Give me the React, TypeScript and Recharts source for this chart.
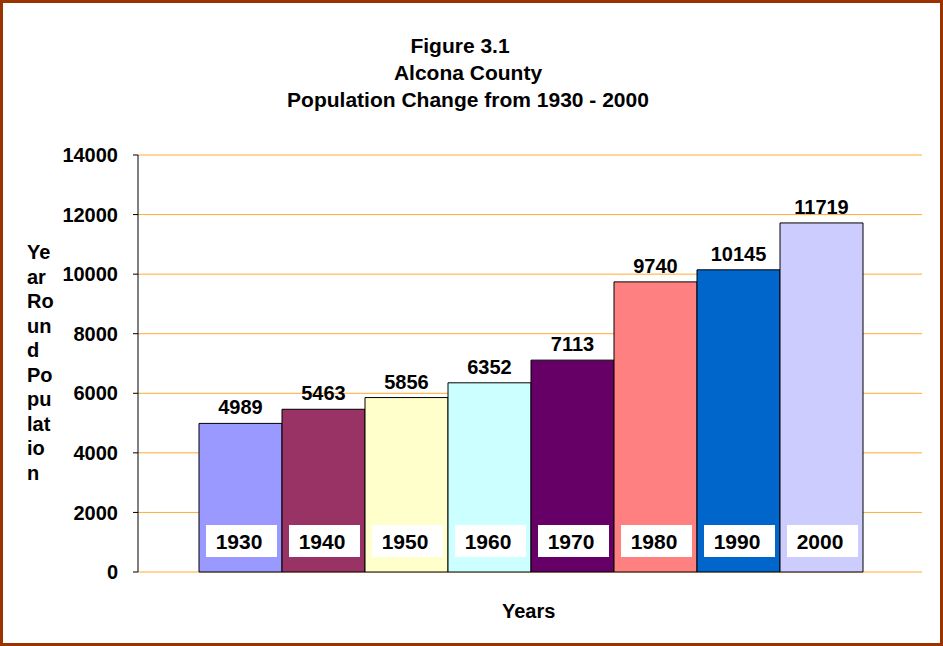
import { BarChart, Bar, XAxis, YAxis, CartesianGrid, LabelList } from "recharts";

const years = ["1930", "1940", "1950", "1960", "1970", "1980", "1990", "2000"];
const population = [4989, 5463, 5856, 6352, 7113, 9740, 10145, 11719];
const barColors = ["#9999FF", "#993366", "#FFFFCC", "#CCFFFF", "#660066", "#FF8080", "#0066CC", "#CCCCFF"];
const yTicks = [0, 2000, 4000, 6000, 8000, 10000, 12000, 14000];
const titleLines = ["Figure 3.1", "Alcona County", "Population Change from 1930 - 2000"];
const yLabelLines = ["Ye", "ar", "Ro", "un", "d", "Po", "pu", "lat", "io", "n"];

const row: Record<string, string | number> = { name: "Alcona County" };
years.forEach((y, i) => {
  row[y] = population[i];
});
const chartData = [row];

const FONT = "'Liberation Sans', Arial, Helvetica, sans-serif";

function YearBox(props: any, year: string) {
  const { x, y, height } = props;
  const bx = Number(x) + 7;
  const by = Number(y) + Number(height) - 47;
  return (
    <g>
      <rect x={bx} y={by} width={71} height={32} fill="#FFFFFF" />
      <text x={bx + 33} y={by + 24} textAnchor="middle" fontSize={21} fontWeight="bold" fill="#000" fontFamily={FONT}>
        {year}
      </text>
    </g>
  );
}

export default function App() {
  return (
    <div
      style={{
        position: "absolute",
        left: 0,
        top: 0,
        width: 943,
        height: 646,
        boxSizing: "border-box",
        border: "3px solid #993300",
        background: "#FFFFFF",
        fontFamily: FONT,
        fontWeight: "bold",
        color: "#000",
      }}
    >
      <div style={{ position: "absolute", left: -3, top: -3 }}>
        <BarChart
          width={943}
          height={646}
          data={chartData}
          margin={{ top: 155, right: 21, bottom: 74, left: 0 }}
          barCategoryGap={61}
          barGap={0}
        >
          <CartesianGrid vertical={false} stroke="#FFAA33" strokeWidth={1} />
          <XAxis dataKey="name" hide />
          <YAxis
            width={138}
            domain={[0, 14000]}
            ticks={yTicks}
            interval={0}
            tickSize={5}
            tickMargin={15}
            axisLine={{ stroke: "#000" }}
            tickLine={{ stroke: "#000" }}
            tick={{ fontSize: 20, fontWeight: "bold", fill: "#000", fontFamily: FONT }}
          />
          {years.map((y, i) => (
            <Bar key={y} dataKey={y} fill={barColors[i]} stroke="#000" strokeWidth={1} isAnimationActive={false}>
              <LabelList
                dataKey={y}
                position="top"
                offset={9}
                style={{ fontSize: 20, fontWeight: "bold", fill: "#000", fontFamily: FONT }}
              />
              <LabelList dataKey={y} content={(p: any) => YearBox(p, y)} />
            </Bar>
          ))}
        </BarChart>
      </div>
      {titleLines.map((t, i) => (
        <div
          key={t}
          style={{
            position: "absolute",
            left: i === 0 ? -11 : -3,
            width: 936,
            top: 31 + i * 27,
            textAlign: "center",
            fontSize: 21,
            lineHeight: "24px",
          }}
        >
          {t}
        </div>
      ))}
      <div style={{ position: "absolute", left: 24, top: 237, fontSize: 20, lineHeight: "24.5px" }}>
        {yLabelLines.map((l) => (
          <div key={l}>{l}</div>
        ))}
      </div>
      <div style={{ position: "absolute", left: 499, top: 596, fontSize: 20, lineHeight: "24px" }}>Years</div>
    </div>
  );
}
